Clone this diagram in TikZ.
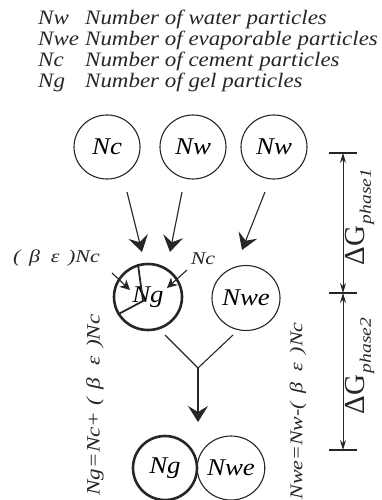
\documentclass[tikz,border=0pt]{standalone}
\usepackage{fontspec}
\setmainfont{Liberation Serif}
\newfontfamily\spacedserif[FakeStretch=1.12]{Liberation Serif}
\newfontfamily\widerserif[FakeStretch=1.22]{Liberation Serif}
\usetikzlibrary{arrows.meta,shapes.geometric,positioning}

\begin{document}
\begin{tikzpicture}[
        x=1pt, y=-1pt,
        particle/.style={
            ellipse, draw=black!85, line width=1.1pt, inner sep=0pt,
            minimum width=66pt, minimum height=64pt,
            font=\spacedserif\itshape\fontsize{24}{24}\selectfont
        },
        gel/.style={particle, line width=2.6pt},
        legend/.style={
            anchor=base west, inner sep=0pt, text=black!85,
            font=\spacedserif\itshape\fontsize{20.5}{20.5}\selectfont
        },
        amount/.style={
            inner sep=0pt, text=black!85,
            font=\widerserif\itshape\fontsize{18}{18}\selectfont
        },
        bigflow/.style={-{Stealth[length=16pt,width=20pt,inset=6pt]}, line width=1.1pt, draw=black!85},
        smallflow/.style={-{Stealth[length=10pt,width=10pt,inset=3pt]}, line width=1.1pt, draw=black!85},
        dimline/.style={{Stealth[length=10pt,width=6pt]}-{Stealth[length=10pt,width=6pt]}, line width=0.9pt, draw=black!85},
        dimtick/.style={line width=1.1pt, draw=black!85},
        phaselabel/.style={rotate=90, inner sep=0pt, text=black!85}
    ]
    \useasboundingbox (0,0) rectangle (381,500);

    % Legend
    \node[legend] (kw)  at (38,25) {Nw};
    \node[legend] (dw)  at (85,25) {Number of water particles};
    \node[legend] (kwe) at (38,46) {Nwe};
    \node[legend] (dwe) at (85,46) {Number of evaporable particles};
    \node[legend] (kc)  at (38,67) {Nc};
    \node[legend] (dc)  at (85,67) {Number of cement particles};
    \node[legend] (kg)  at (38,88) {Ng};
    \node[legend] (dg)  at (85,88) {Number of gel particles};

    % Top row: starting particles
    \node[particle] (nc)  at (107,147) {Nc};
    \node[particle] (nw1) at (193,147) {Nw};
    \node[particle] (nw2) at (274,147) {Nw};

    % Middle row
    \node[gel, minimum width=68pt, minimum height=66pt] (ng) at (148,297) {Ng};
    \node[particle, minimum width=68pt, minimum height=65pt] (nwe) at (246,298) {Nwe};

    % Bottom row
    \node[gel, minimum width=64pt, minimum height=64pt] (ngf) at (165,468) {Ng};
    \node[particle, minimum width=66pt, minimum height=64pt] (nwef) at (231,468) {Nwe};

    % Arrows: top row -> middle row
    \coordinate (nc-out)  at (127,192);
    \coordinate (nw1-out) at (182,192);
    \coordinate (nw2-out) at (265,192);
    \coordinate (ng-in1)  at (142,252);
    \coordinate (ng-in2)  at (170,252);
    \coordinate (nwe-in)  at (242,250);
    \draw[bigflow] (nc-out) -- (ng-in1);
    \draw[bigflow] (nw1-out) -- (ng-in2);
    \draw[bigflow] (nw2-out) -- (nwe-in);

    % Split of the gel particle
    \coordinate (ng-core) at (143,301);
    \draw[line width=1.8pt, draw=black!85] (ng.107) -- (ng-core) -- (ng.210);

    % Contributions to Ng
    \node[amount, anchor=east] (be) at (100,258) {(\, β\ \ ε\, )Nc};
    \node[amount] (ncin) at (203,259) {Nc};
    \coordinate (be-from) at (112,273);
    \coordinate (be-to)   at (130,290);
    \coordinate (nc-from) at (187,270);
    \coordinate (nc-to)   at (167,288);
    \draw[smallflow] (be-from) -- (be-to);
    \draw[smallflow] (nc-from) -- (nc-to);

    % Merge into the final state
    \coordinate (merge-l) at (165,335);
    \coordinate (merge-r) at (233,335);
    \coordinate (merge)   at (198,368);
    \coordinate (final-in) at (198,422);
    \draw[line width=1.1pt, draw=black!85] (merge-l) -- (merge) -- (merge-r);
    \draw[bigflow] (merge) -- (final-in);

    % Balances
    \node[amount, rotate=90, font=\widerserif\itshape\fontsize{19}{19}\selectfont] (ngeq)  at (95,405)  {Ng=Nc+\ (\, β\ \ ε\, )Nc};
    \node[amount, rotate=90, font=\widerserif\itshape\fontsize{18}{18}\selectfont] (nweeq) at (298,411) {Nwe=Nw-(\, β\ \ ε\, )Nc};

    % Phase dimensions
    \coordinate (d1) at (343,153);
    \coordinate (d2) at (343,293);
    \coordinate (d3) at (343,450);
    \draw[dimtick] ([xshift=-14pt]d1) -- ([xshift=14pt]d1);
    \draw[dimtick] ([xshift=-14pt]d2) -- ([xshift=14pt]d2);
    \draw[dimtick] ([xshift=-14pt]d3) -- ([xshift=14pt]d3);
    \draw[dimline] (d1) -- (d2);
    \draw[dimline] (d2) -- (d3);
    \node[phaselabel] (g1) at (360,217) {{\fontsize{29}{29}\selectfont ΔG}\,\raisebox{-6pt}{\widerserif\itshape\fontsize{16}{16}\selectfont phase1}};
    \node[phaselabel] (g2) at (360,366) {{\fontsize{29}{29}\selectfont ΔG}\,\raisebox{-6pt}{\widerserif\itshape\fontsize{16}{16}\selectfont phase2}};
\end{tikzpicture}
\end{document}
